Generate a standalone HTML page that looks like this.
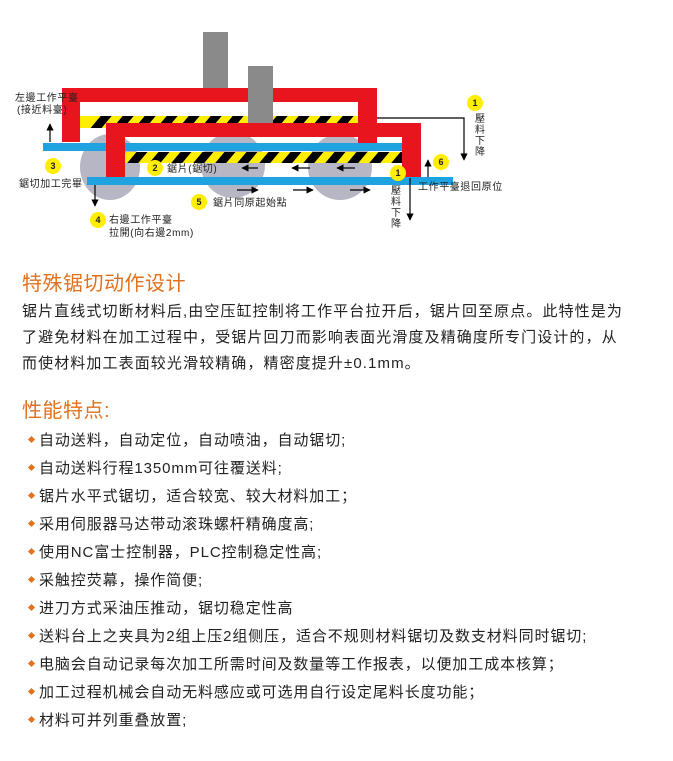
<!DOCTYPE html>
<html><head><meta charset="utf-8"><style>
body{margin:0;width:673px;height:761px;background:#fff;position:relative;overflow:hidden;font-family:"Liberation Sans","Noto Sans CJK SC",sans-serif;color:#222}
h2{position:absolute;margin:0;font-weight:normal;color:#e2711d;font-size:20px;left:22px;white-space:nowrap;letter-spacing:0.5px}
.p{position:absolute;left:22px;font-size:15px;line-height:26px;white-space:nowrap;color:#222;letter-spacing:1.1px}
.li{position:absolute;left:39px;font-size:15px;white-space:nowrap;letter-spacing:0.9px}
.li:before{content:"";position:absolute;left:-10px;top:8px;width:5px;height:5px;background:#e2711d;transform:rotate(45deg)}
svg text{font-family:"Liberation Sans","Noto Sans CJK TC",sans-serif;fill:#222}
</style></head><body>
<svg width="673" height="250" style="position:absolute;left:0;top:0" xmlns="http://www.w3.org/2000/svg">
<defs>
<pattern id="st" width="22" height="20" patternUnits="userSpaceOnUse" patternTransform="skewX(-40)">
<rect width="22" height="20" fill="#ffee00"/><rect width="11" height="20" fill="#000"/></pattern>
<marker id="ar" viewBox="0 0 10 10" refX="9" refY="5" markerWidth="6" markerHeight="6" orient="auto"><path d="M0,0L10,5L0,10z" fill="#000"/></marker>
</defs>
<rect x="203" y="32" width="25" height="60" fill="#8a8a8a"/>
<ellipse cx="110" cy="167" rx="30" ry="33" fill="#b7b6c4"/>
<ellipse cx="233" cy="165" rx="32" ry="33" fill="#b7b6c4"/>
<ellipse cx="340" cy="167" rx="32" ry="33" fill="#b7b6c4"/>
<path d="M62,88H377V143H358V102H80V142H62Z" fill="#e8141e"/>
<rect x="80" y="116" width="278" height="12" fill="url(#st)"/>
<rect x="80" y="116" width="10" height="12" fill="#ffee00"/>
<rect x="248" y="66" width="25" height="57" fill="#8a8a8a"/>
<rect x="43" y="143" width="359" height="8" fill="#1fa2e0"/>
<path d="M106,123H421V177H402V137H125V177H106Z" fill="#e8141e"/>
<rect x="125" y="152" width="277" height="11" fill="url(#st)"/>
<rect x="87" y="177" width="366" height="8" fill="#1fa2e0"/>
<g stroke="#000" stroke-width="1.2" fill="none" marker-end="url(#ar)">
<path d="M377,118H464V160"/>
<path d="M50,142V124"/>
<path d="M95,185V206"/>
<path d="M410,178V220"/>
<path d="M428,177V160"/>
<path d="M258,168H242"/><path d="M310,168H292"/><path d="M355,168H337"/>
<path d="M237,190H258"/><path d="M293,190H313"/><path d="M350,190H370"/>
</g>
<g fill="#ffee00">
<circle cx="475" cy="103" r="8"/><circle cx="53" cy="166" r="8"/><circle cx="155" cy="168" r="8"/>
<circle cx="398" cy="173" r="8"/><circle cx="441" cy="162" r="8"/><circle cx="98" cy="220" r="8"/><circle cx="199" cy="202" r="8"/>
</g>
<g font-size="9" text-anchor="middle" font-weight="bold">
<text x="475" y="106">1</text><text x="53" y="169">3</text><text x="155" y="171">2</text>
<text x="398" y="176">1</text><text x="441" y="165">6</text><text x="98" y="223">4</text><text x="199" y="205">5</text>
</g>
<g font-size="10" letter-spacing="0.6">
<text x="15" y="101">左邊工作平臺</text>
<text x="17" y="113">(接近料臺)</text>
<text x="19" y="187">鋸切加工完畢</text>
<text x="167" y="172">鋸片(鋸切)</text>
<text x="213" y="206">鋸片同原起始點</text>
<text x="109" y="223">右邊工作平臺</text>
<text x="109" y="236">拉開(向右邊2mm)</text>
<text x="418" y="190">工作平臺退回原位</text>
<text x="475" y="122">壓</text><text x="475" y="133">料</text><text x="475" y="144">下</text><text x="475" y="155">降</text>
<text x="391" y="194">壓</text><text x="391" y="205">料</text><text x="391" y="216">下</text><text x="391" y="227">降</text>
</g>
</svg>
<h2 style="top:267px">特殊锯切动作设计</h2>
<div class="p" style="top:299px">锯片直线式切断材料后,由空压缸控制将工作平台拉开后，锯片回至原点。此特性是为<br>了避免材料在加工过程中，受锯片回刀而影响表面光滑度及精确度所专门设计的，从<br>而使材料加工表面较光滑较精确，精密度提升±0.1mm。</div>
<h2 style="top:394px">性能特点:</h2>
<div class="li" style="top:429px">自动送料，自动定位，自动喷油，自动锯切;</div>
<div class="li" style="top:457px">自动送料行程1350mm可往覆送料;</div>
<div class="li" style="top:485px">锯片水平式锯切，适合较宽、较大材料加工；</div>
<div class="li" style="top:513px">采用伺服器马达带动滚珠螺杆精确度高;</div>
<div class="li" style="top:541px">使用NC富士控制器，PLC控制稳定性高;</div>
<div class="li" style="top:569px">采触控荧幕，操作简便;</div>
<div class="li" style="top:597px">进刀方式采油压推动，锯切稳定性高</div>
<div class="li" style="top:625px">送料台上之夹具为2组上压2组侧压，适合不规则材料锯切及数支材料同时锯切;</div>
<div class="li" style="top:653px">电脑会自动记录每次加工所需时间及数量等工作报表，以便加工成本核算；</div>
<div class="li" style="top:681px">加工过程机械会自动无料感应或可选用自行设定尾料长度功能；</div>
<div class="li" style="top:709px">材料可并列重叠放置;</div>
</body></html>
